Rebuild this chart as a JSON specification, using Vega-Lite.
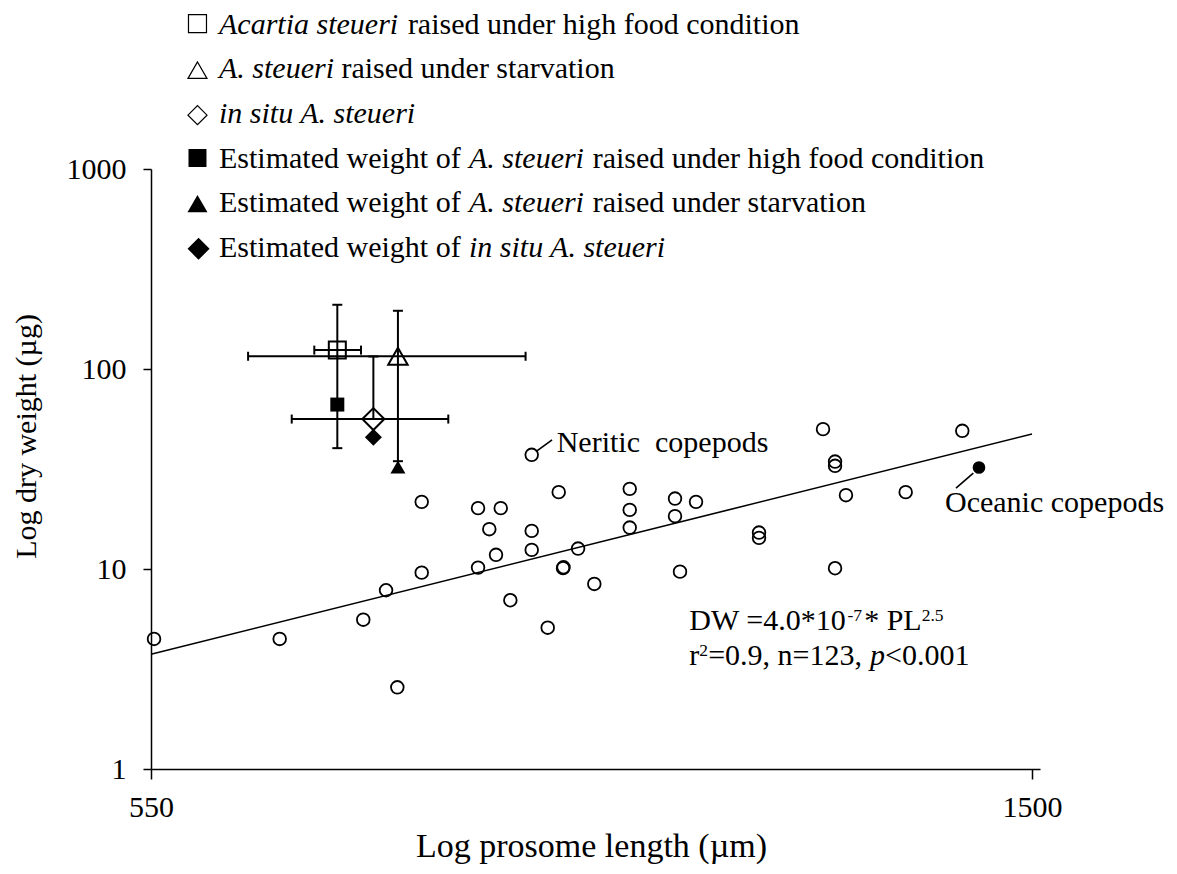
{
  "$schema": "https://vega.github.io/schema/vega-lite/v6.json",
  "width": 889,
  "height": 600,
  "autosize": {"type": "none"},
  "padding": {"left": 151, "top": 169, "right": 137, "bottom": 105},
  "background": "white",
  "config": {
    "font": "Liberation Serif",
    "view": {"stroke": null},
    "axis": {
      "grid": false,
      "domainColor": "black",
      "domainWidth": 1.5,
      "tickColor": "black",
      "tickWidth": 1.5,
      "labelColor": "black",
      "labelFont": "Liberation Serif",
      "labelFontSize": 30,
      "labelFlush": false,
      "titleColor": "black",
      "titleFont": "Liberation Serif",
      "titleFontSize": 30,
      "titleFontWeight": "normal"
    }
  },
  "datasets": {
    "fit": [{"x": 550, "y": 3.75}, {"x": 1500, "y": 47.3}],
    "circles": [
      {"x": 551.9, "y": 4.47}, {"x": 636.8, "y": 4.47}, {"x": 700.4, "y": 5.58}, {"x": 718.8, "y": 7.83},
      {"x": 728.1, "y": 2.56}, {"x": 748.6, "y": 9.59}, {"x": 748.6, "y": 21.66}, {"x": 798.2, "y": 20.15},
      {"x": 798.2, "y": 10.16}, {"x": 819.1, "y": 20.15}, {"x": 808.5, "y": 15.82}, {"x": 814.7, "y": 11.77},
      {"x": 828.1, "y": 6.98}, {"x": 848.5, "y": 37.23}, {"x": 848.5, "y": 15.51}, {"x": 848.5, "y": 12.46},
      {"x": 864.1, "y": 5.09}, {"x": 875.0, "y": 24.23}, {"x": 879.3, "y": 10.1}, {"x": 879.8, "y": 10.2},
      {"x": 894.5, "y": 12.65}, {"x": 911.2, "y": 8.42}, {"x": 948.7, "y": 25.16}, {"x": 948.7, "y": 19.75},
      {"x": 948.7, "y": 16.11}, {"x": 998.9, "y": 22.5}, {"x": 998.9, "y": 18.37}, {"x": 1023.1, "y": 21.66},
      {"x": 1004.6, "y": 9.7}, {"x": 1099.2, "y": 15.21}, {"x": 1099.2, "y": 14.31}, {"x": 1182.3, "y": 50.04},
      {"x": 1198.6, "y": 34.45}, {"x": 1198.6, "y": 32.8}, {"x": 1213.6, "y": 23.4}, {"x": 1198.6, "y": 10.09},
      {"x": 1299.0, "y": 24.23}, {"x": 1385.5, "y": 49.07}
    ],
    "oceanic": [{"x": 1412.1, "y": 32.16}],
    "vbars": [
      {"x": 680.0, "lo": 40.2, "hi": 209.5},
      {"x": 728.6, "lo": 34.6, "hi": 195.5},
      {"x": 708.5, "lo": 56.2, "hi": 115.5}
    ],
    "vcaps": [
      {"x": 680.0, "y": 40.2}, {"x": 680.0, "y": 209.5},
      {"x": 728.6, "y": 34.6}, {"x": 728.6, "y": 195.5},
      {"x": 708.5, "y": 115.5}
    ],
    "hbars": [
      {"y": 124.3, "lo": 662.4, "hi": 698.6},
      {"y": 115.8, "lo": 614.3, "hi": 842.6},
      {"y": 56.2, "lo": 645.6, "hi": 771.6}
    ],
    "hcaps": [
      {"x": 662.4, "y": 124.3}, {"x": 698.6, "y": 124.3},
      {"x": 614.3, "y": 115.8}, {"x": 842.6, "y": 115.8},
      {"x": 645.6, "y": 56.2}, {"x": 771.6, "y": 56.2}
    ],
    "means": [
      {"group": "high food", "x": 680.0, "y": 124.3},
      {"group": "starvation", "x": 728.6, "y": 115.8},
      {"group": "in situ", "x": 708.5, "y": 56.2},
      {"group": "est high food", "x": 680.0, "y": 66.4},
      {"group": "est starvation", "x": 728.6, "y": 32.35},
      {"group": "est in situ", "x": 708.5, "y": 45.6}
    ],
    "legendSymbols": [
      {"group": "high food", "x": 579.9, "y": 5332},
      {"group": "starvation", "x": 579.9, "y": 3121},
      {"group": "in situ", "x": 579.9, "y": 1858},
      {"group": "est high food", "x": 579.9, "y": 1135.3},
      {"group": "est starvation", "x": 579.9, "y": 670.6},
      {"group": "est in situ", "x": 580.6, "y": 399.2}
    ],
    "legendRoman": [
      {"x": 736.9, "y": 4752, "text": "raised under high food condition"},
      {"x": 683.2, "y": 2843, "text": "raised under starvation"},
      {"x": 594.3, "y": 1017.4, "text": "Estimated weight of"},
      {"x": 909.5, "y": 1017.4, "text": "raised under high food condition"},
      {"x": 594.3, "y": 608.7, "text": "Estimated weight of"},
      {"x": 909.5, "y": 608.7, "text": "raised under starvation"},
      {"x": 594.3, "y": 364.1, "text": "Estimated weight of"}
    ],
    "legendItalic": [
      {"x": 594.3, "y": 4752, "text": "Acartia steueri"},
      {"x": 594.3, "y": 2843, "text": "A. steueri"},
      {"x": 594.3, "y": 1701, "text": "in situ A. steueri"},
      {"x": 790.0, "y": 1017.4, "text": "A. steueri"},
      {"x": 790.0, "y": 608.7, "text": "A. steueri"},
      {"x": 790.0, "y": 364.1, "text": "in situ A. steueri"}
    ],
    "leaders": [
      {"x": 852.6, "y": 38.67, "x2": 868.4, "y2": 44.24},
      {"x": 1403.0, "y": 30.15, "x2": 1375.6, "y2": 25.36}
    ],
    "annRoman": [
      {"x": 873.0, "y": 38.67, "text": "Neritic\u00a0 copepods"},
      {"x": 1358.5, "y": 19.37, "text": "Oceanic copepods"},
      {"x": 1015.3, "y": 4.958, "text": "DW =4.0*10"},
      {"x": 1239.0, "y": 4.958, "text": "* PL"},
      {"x": 1015.3, "y": 3.314, "text": "r"},
      {"x": 1037.3, "y": 3.314, "text": "=0.9, n=123,"},
      {"x": 1268.8, "y": 3.314, "text": "<0.001"}
    ],
    "annSup": [
      {"x": 1215.7, "y": 5.501, "text": "-7"},
      {"x": 1322.9, "y": 5.501, "text": "2.5"},
      {"x": 1026.9, "y": 3.654, "text": "2"}
    ],
    "annItalic": [
      {"x": 1247.4, "y": 3.314, "text": "p"}
    ]
  },
  "layer": [
    {
      "data": {"name": "fit"},
      "mark": {"type": "line", "color": "black", "strokeWidth": 1.6},
      "encoding": {
        "x": {
          "field": "x", "type": "quantitative",
          "scale": {"type": "log", "domain": [550, 1513.7], "nice": false},
          "axis": {
            "title": "Log prosome length (µm)",
            "values": [550, 1500], "format": "d",
            "tickSize": 10, "labelPadding": 13,
            "titleFontSize": 34,
            "titleX": 440, "titleY": 77, "titleBaseline": "middle"
          }
        },
        "y": {
          "field": "y", "type": "quantitative",
          "scale": {"type": "log", "domain": [1, 1000], "nice": false},
          "axis": {
            "title": "Log dry weight (µg)",
            "values": [1, 10, 100, 1000], "format": "d",
            "tickSize": 8, "labelPadding": 17,
            "titleX": -125, "titleY": 267, "titleAngle": 270,
            "titleBaseline": "middle", "titleAlign": "center"
          }
        }
      }
    },
    {
      "data": {"name": "circles"},
      "mark": {"type": "point", "shape": "circle", "filled": false, "stroke": "black", "strokeWidth": 1.8, "size": 160, "opacity": 1},
      "encoding": {
        "x": {"field": "x", "type": "quantitative"},
        "y": {"field": "y", "type": "quantitative"}
      }
    },
    {
      "data": {"name": "oceanic"},
      "mark": {"type": "point", "shape": "circle", "filled": true, "color": "black", "size": 160, "opacity": 1},
      "encoding": {
        "x": {"field": "x", "type": "quantitative"},
        "y": {"field": "y", "type": "quantitative"}
      }
    },
    {
      "data": {"name": "leaders"},
      "mark": {"type": "rule", "color": "black", "strokeWidth": 1.6},
      "encoding": {
        "x": {"field": "x", "type": "quantitative"},
        "y": {"field": "y", "type": "quantitative"},
        "x2": {"field": "x2"},
        "y2": {"field": "y2"}
      }
    },
    {
      "data": {"name": "vbars"},
      "mark": {"type": "rule", "color": "black", "strokeWidth": 2},
      "encoding": {
        "x": {"field": "x", "type": "quantitative"},
        "y": {"field": "lo", "type": "quantitative"},
        "y2": {"field": "hi"}
      }
    },
    {
      "data": {"name": "hbars"},
      "mark": {"type": "rule", "color": "black", "strokeWidth": 2},
      "encoding": {
        "x": {"field": "lo", "type": "quantitative"},
        "x2": {"field": "hi"},
        "y": {"field": "y", "type": "quantitative"}
      }
    },
    {
      "data": {"name": "vcaps"},
      "mark": {"type": "tick", "orient": "horizontal", "color": "black", "size": 10, "thickness": 2, "opacity": 1},
      "encoding": {
        "x": {"field": "x", "type": "quantitative"},
        "y": {"field": "y", "type": "quantitative"}
      }
    },
    {
      "data": {"name": "hcaps"},
      "mark": {"type": "tick", "orient": "vertical", "color": "black", "size": 9, "thickness": 2, "opacity": 1},
      "encoding": {
        "x": {"field": "x", "type": "quantitative"},
        "y": {"field": "y", "type": "quantitative"}
      }
    },
    {
      "data": {"name": "means"},
      "transform": [{"filter": "datum.group === 'high food'"}],
      "mark": {"type": "point", "shape": "square", "filled": false, "stroke": "black", "strokeWidth": 2, "size": 289, "opacity": 1},
      "encoding": {"x": {"field": "x", "type": "quantitative"}, "y": {"field": "y", "type": "quantitative"}}
    },
    {
      "data": {"name": "means"},
      "transform": [{"filter": "datum.group === 'starvation'"}],
      "mark": {"type": "point", "shape": "triangle-up", "filled": false, "stroke": "black", "strokeWidth": 2, "size": 380, "opacity": 1},
      "encoding": {"x": {"field": "x", "type": "quantitative"}, "y": {"field": "y", "type": "quantitative"}}
    },
    {
      "data": {"name": "means"},
      "transform": [{"filter": "datum.group === 'in situ'"}],
      "mark": {"type": "point", "shape": "diamond", "filled": false, "stroke": "black", "strokeWidth": 2, "size": 484, "opacity": 1},
      "encoding": {"x": {"field": "x", "type": "quantitative"}, "y": {"field": "y", "type": "quantitative"}}
    },
    {
      "data": {"name": "means"},
      "transform": [{"filter": "datum.group === 'est high food'"}],
      "mark": {"type": "point", "shape": "square", "filled": true, "color": "black", "size": 196, "opacity": 1},
      "encoding": {"x": {"field": "x", "type": "quantitative"}, "y": {"field": "y", "type": "quantitative"}}
    },
    {
      "data": {"name": "means"},
      "transform": [{"filter": "datum.group === 'est starvation'"}],
      "mark": {"type": "point", "shape": "triangle-up", "filled": true, "color": "black", "size": 225, "opacity": 1},
      "encoding": {"x": {"field": "x", "type": "quantitative"}, "y": {"field": "y", "type": "quantitative"}}
    },
    {
      "data": {"name": "means"},
      "transform": [{"filter": "datum.group === 'est in situ'"}],
      "mark": {"type": "point", "shape": "diamond", "filled": true, "color": "black", "size": 289, "opacity": 1},
      "encoding": {"x": {"field": "x", "type": "quantitative"}, "y": {"field": "y", "type": "quantitative"}}
    },
    {
      "data": {"name": "legendSymbols"},
      "transform": [{"filter": "datum.group === 'high food'"}],
      "mark": {"type": "point", "shape": "square", "filled": false, "stroke": "black", "strokeWidth": 1.2, "size": 324, "opacity": 1},
      "encoding": {"x": {"field": "x", "type": "quantitative"}, "y": {"field": "y", "type": "quantitative"}}
    },
    {
      "data": {"name": "legendSymbols"},
      "transform": [{"filter": "datum.group === 'starvation'"}],
      "mark": {"type": "point", "shape": "triangle-up", "filled": false, "stroke": "black", "strokeWidth": 1.2, "size": 361, "opacity": 1},
      "encoding": {"x": {"field": "x", "type": "quantitative"}, "y": {"field": "y", "type": "quantitative"}}
    },
    {
      "data": {"name": "legendSymbols"},
      "transform": [{"filter": "datum.group === 'in situ'"}],
      "mark": {"type": "point", "shape": "diamond", "filled": false, "stroke": "black", "strokeWidth": 1.2, "size": 361, "opacity": 1},
      "encoding": {"x": {"field": "x", "type": "quantitative"}, "y": {"field": "y", "type": "quantitative"}}
    },
    {
      "data": {"name": "legendSymbols"},
      "transform": [{"filter": "datum.group === 'est high food'"}],
      "mark": {"type": "point", "shape": "square", "filled": true, "color": "black", "size": 324, "opacity": 1},
      "encoding": {"x": {"field": "x", "type": "quantitative"}, "y": {"field": "y", "type": "quantitative"}}
    },
    {
      "data": {"name": "legendSymbols"},
      "transform": [{"filter": "datum.group === 'est starvation'"}],
      "mark": {"type": "point", "shape": "triangle-up", "filled": true, "color": "black", "size": 400, "opacity": 1},
      "encoding": {"x": {"field": "x", "type": "quantitative"}, "y": {"field": "y", "type": "quantitative"}}
    },
    {
      "data": {"name": "legendSymbols"},
      "transform": [{"filter": "datum.group === 'est in situ'"}],
      "mark": {"type": "point", "shape": "diamond", "filled": true, "color": "black", "size": 484, "opacity": 1},
      "encoding": {"x": {"field": "x", "type": "quantitative"}, "y": {"field": "y", "type": "quantitative"}}
    },
    {
      "data": {"name": "legendRoman"},
      "mark": {"type": "text", "align": "left", "baseline": "alphabetic", "fontSize": 30, "color": "black"},
      "encoding": {
        "x": {"field": "x", "type": "quantitative"},
        "y": {"field": "y", "type": "quantitative"},
        "text": {"field": "text"}
      }
    },
    {
      "data": {"name": "legendItalic"},
      "mark": {"type": "text", "align": "left", "baseline": "alphabetic", "fontSize": 30, "fontStyle": "italic", "color": "black"},
      "encoding": {
        "x": {"field": "x", "type": "quantitative"},
        "y": {"field": "y", "type": "quantitative"},
        "text": {"field": "text"}
      }
    },
    {
      "data": {"name": "annRoman"},
      "mark": {"type": "text", "align": "left", "baseline": "alphabetic", "fontSize": 30, "color": "black"},
      "encoding": {
        "x": {"field": "x", "type": "quantitative"},
        "y": {"field": "y", "type": "quantitative"},
        "text": {"field": "text"}
      }
    },
    {
      "data": {"name": "annSup"},
      "mark": {"type": "text", "align": "left", "baseline": "alphabetic", "fontSize": 17.5, "color": "black"},
      "encoding": {
        "x": {"field": "x", "type": "quantitative"},
        "y": {"field": "y", "type": "quantitative"},
        "text": {"field": "text"}
      }
    },
    {
      "data": {"name": "annItalic"},
      "mark": {"type": "text", "align": "left", "baseline": "alphabetic", "fontSize": 30, "fontStyle": "italic", "color": "black"},
      "encoding": {
        "x": {"field": "x", "type": "quantitative"},
        "y": {"field": "y", "type": "quantitative"},
        "text": {"field": "text"}
      }
    }
  ]
}
